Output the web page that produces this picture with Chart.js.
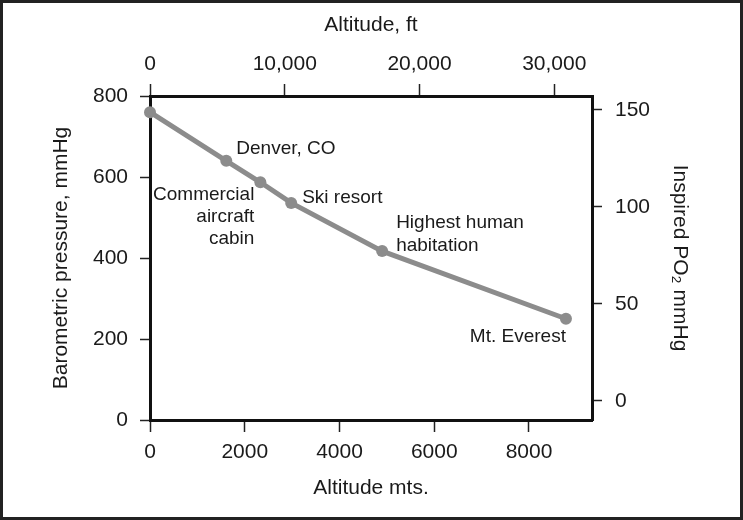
<!DOCTYPE html>
<html>
<head>
<meta charset="utf-8">
<script src="https://cdn.jsdelivr.net/npm/chart.js@4/dist/chart.umd.min.js"></script>
<style>
  html, body { margin: 0; padding: 0; background: #fff; }
  #wrap { width: 743px; height: 520px; }
</style>
</head>
<body>
<div id="wrap"><canvas id="c" width="743" height="520"></canvas></div>
<script>
// ---- data ----
const altitudeMeters = [0, 1610, 2330, 2980, 4900, 8780];
const pressureMmHg   = [760, 640, 587, 536, 417, 250];
const placeLabels    = [[], ['Denver, CO'], ['Commercial', 'aircraft', 'cabin'], ['Ski resort'], ['Highest human', 'habitation'], ['Mt. Everest']];

const bottomTicks = [0, 2000, 4000, 6000, 8000];
const topTicks    = [0, 10000, 20000, 30000];
const leftTicks   = [0, 200, 400, 600, 800];
const rightTicks  = [0, 50, 100, 150];

const bottomRange = [0, 9330];
const topRange    = [0, 32800];
const leftRange   = [0, 800];
const rightRange  = [-9.8, 157.2];

const titles = {
  bottom: 'Altitude mts.',
  top: 'Altitude, ft',
  left: 'Barometric pressure, mmHg',
  right: 'Inspired PO\u2082 mmHg'
};

// ---- styling (not data) ----
const FONT = "'Liberation Sans', Arial, Helvetica, sans-serif";
const TEXT = '#1a1a1a';
const LINE_GRAY = '#8c8c8c';
// label placement relative to its point: [align, dx, dy, lineHeight]
const labelPlacement = [null, ['left', 10, -12, 22], ['right', -6, 13, 22], ['left', 11, -5, 22], ['left', 14, -28, 23], ['right', 0, 18, 22]];

const points = altitudeMeters.map((a, i) => ({ x: a, y: pressureMmHg[i] }));

function fixedTicks(list) {
  return function (scale) { scale.ticks = list.map(v => ({ value: v })); };
}

const frame = {
  id: 'frame',
  beforeDraw(chart) {
    const ctx = chart.ctx;
    ctx.save();
    ctx.fillStyle = '#fff';
    ctx.fillRect(0, 0, chart.width, chart.height);
    ctx.restore();
  },
  afterDraw(chart) {
    const ctx = chart.ctx;
    ctx.save();
    ctx.strokeStyle = '#222';
    ctx.lineWidth = 3;
    ctx.strokeRect(1.5, 1.5, chart.width - 3, chart.height - 3);
    ctx.restore();
  }
};

const placeText = {
  id: 'placeText',
  afterDatasetsDraw(chart) {
    const ctx = chart.ctx;
    const xs = chart.scales.x, ys = chart.scales.y;
    ctx.save();
    ctx.font = '19px ' + FONT;
    ctx.fillStyle = TEXT;
    ctx.textBaseline = 'middle';
    placeLabels.forEach((lines, i) => {
      const p = labelPlacement[i];
      if (!p || !lines.length) return;
      const px = xs.getPixelForValue(altitudeMeters[i]);
      const py = ys.getPixelForValue(pressureMmHg[i]);
      ctx.textAlign = p[0];
      lines.forEach((t, k) => ctx.fillText(t, px + p[1], py + p[2] + k * p[3]));
    });
    ctx.restore();
  }
};

const gridOpts = (tl) => ({
  display: true,
  drawOnChartArea: false,
  drawTicks: true,
  tickLength: tl,
  tickWidth: 1.5,
  tickColor: '#222'
});
const borderOpts = { display: true, width: 3, color: '#111' };
const tickFont = { family: FONT, size: 21 };
const titleFont = { family: FONT, size: 21 };

new Chart(document.getElementById('c'), {
  type: 'line',
  data: {
    datasets: [{
      data: points,
      borderColor: LINE_GRAY,
      backgroundColor: LINE_GRAY,
      borderWidth: 5,
      pointRadius: 6,
      pointBackgroundColor: LINE_GRAY,
      pointBorderWidth: 0,
      tension: 0,
      clip: false,
      xAxisID: 'x',
      yAxisID: 'y'
    }]
  },
  options: {
    responsive: false,
    animation: false,
    events: [],
    layout: { padding: 0 },
    plugins: { legend: { display: false }, tooltip: { enabled: false } },
    scales: {
      x: {
        type: 'linear', position: 'bottom',
        min: bottomRange[0], max: bottomRange[1],
        afterBuildTicks: fixedTicks(bottomTicks),
        afterFit(s) { s.height = 100; },
        grid: gridOpts(12), border: borderOpts,
        ticks: { font: tickFont, color: TEXT, padding: 8, maxRotation: 0, autoSkip: false, callback: v => String(v) },
        title: { display: true, text: titles.bottom, font: titleFont, color: TEXT, padding: { top: 0, bottom: 19 } }
      },
      x2: {
        type: 'linear', position: 'top',
        min: topRange[0], max: topRange[1],
        afterBuildTicks: fixedTicks(topTicks),
        afterFit(s) { s.height = 96; },
        grid: gridOpts(12), border: borderOpts,
        ticks: { font: tickFont, color: TEXT, padding: 7, maxRotation: 0, autoSkip: false, callback: v => v.toLocaleString('en-US') },
        title: { display: true, text: titles.top, font: titleFont, color: TEXT, padding: { top: 13, bottom: 0 } }
      },
      y: {
        type: 'linear', position: 'left',
        min: leftRange[0], max: leftRange[1],
        afterBuildTicks: fixedTicks(leftTicks),
        afterFit(s) { s.width = 150; },
        grid: gridOpts(10), border: borderOpts,
        ticks: { font: tickFont, color: TEXT, padding: 12, autoSkip: false, callback: v => String(v) },
        title: { display: true, text: titles.left, font: titleFont, color: TEXT, padding: { top: 49, bottom: 0 } }
      },
      y2: {
        type: 'linear', position: 'right',
        min: rightRange[0], max: rightRange[1],
        afterBuildTicks: fixedTicks(rightTicks),
        afterFit(s) { s.width = 151; },
        grid: gridOpts(10), border: borderOpts,
        ticks: { font: tickFont, color: TEXT, padding: 13, autoSkip: false, callback: v => String(v) },
        title: { display: true, text: titles.right, font: titleFont, color: TEXT, padding: { top: 51, bottom: 0 } }
      }
    }
  },
  plugins: [frame, placeText]
});
</script>
</body>
</html>
